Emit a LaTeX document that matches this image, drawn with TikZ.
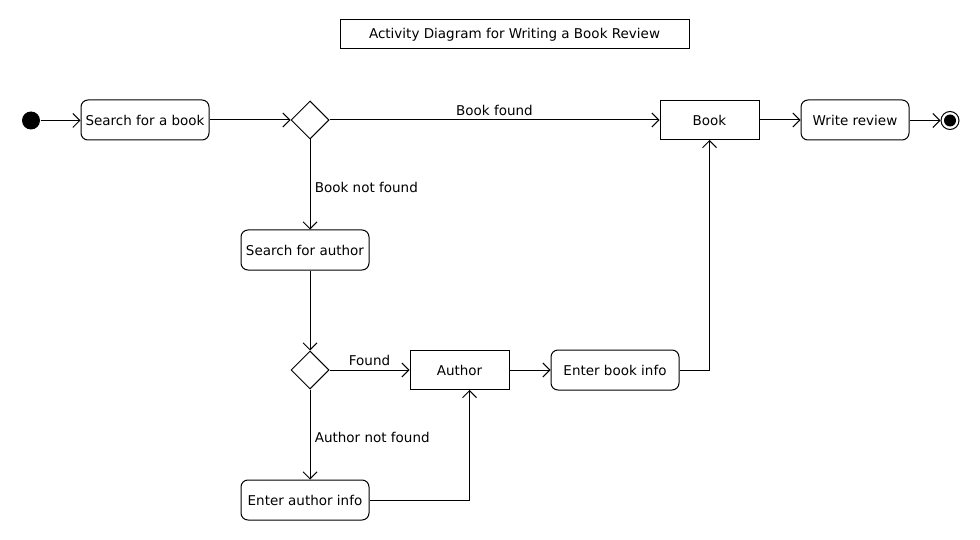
\documentclass[tikz,border=0pt]{standalone}
\usepackage{fontspec}
\setmainfont{DejaVu Sans}
\usetikzlibrary{arrows.meta,shapes.geometric}
\begin{document}
\begin{tikzpicture}[x=1pt,y=-1pt,line width=1pt,
    font=\fontsize{13.5}{16}\selectfont,
    action/.style={draw,rounded corners=7pt,minimum height=40pt,inner sep=2pt},
    object/.style={draw,minimum width=99pt,minimum height=39pt},
    choice/.style={draw,diamond,minimum width=38pt,minimum height=38pt,inner sep=0pt},
    flow/.style={-{Straight Barb[length=7pt,width=14pt]}}]
    \useasboundingbox (0,0) rectangle (980,540);
    \node [draw,minimum width=349pt,minimum height=29pt] (Title) at (514.5,34.5) {Activity Diagram for Writing a Book Review};
    % main row
    \node [circle,fill,minimum size=18pt,inner sep=0pt] (Start) at (31,120.5) {};
    \node [action,minimum width=128pt] (SearchBook) at (145,120) {Search for a book};
    \node [choice] (BookFound) at (310,120) {};
    \node [object] (Book) at (709.5,120) {Book};
    \node [action,minimum width=108pt] (WriteReview) at (855,120) {Write review};
    \node [circle,draw,minimum size=18pt,inner sep=0pt] (End) at (950,120.5) {};
    \fill (End) circle (6pt);
    % author branch
    \node [action,minimum width=128pt] (SearchAuthor) at (305,250) {Search for author};
    \node [choice] (AuthorFound) at (310,370) {};
    \node [object] (Author) at (459.5,370) {Author};
    \node [action,minimum width=128pt] (EnterBook) at (615,370) {Enter book info};
    \node [action,minimum width=128pt] (EnterAuthor) at (305,500) {Enter author info};
    % flows
    \draw [flow] (Start) -- (Start -| SearchBook.west);
    \draw [flow] (SearchBook) -- (BookFound);
    \draw [flow] (BookFound) -- node [above=0pt] {Book found} (Book);
    \draw [flow] (Book) -- (WriteReview);
    \draw [flow] (WriteReview.east |- End) -- (End);
    \draw [flow] (BookFound.south) -- node [right=1pt,yshift=-2.5pt] {Book not found} (BookFound.south |- SearchAuthor.north);
    \draw [flow] (BookFound.south |- SearchAuthor.south) -- (AuthorFound.north);
    \draw [flow] (AuthorFound) -- node [above=0pt] {Found} (Author);
    \draw [flow] (AuthorFound.south) -- node [right=1pt,yshift=-2.5pt] {Author not found} (AuthorFound.south |- EnterAuthor.north);
    \draw [flow] (EnterAuthor) -| ([xshift=10pt]Author.south);
    \draw [flow] (Author) -- (EnterBook);
    \draw [flow] (EnterBook) -| (Book.south);
\end{tikzpicture}
\end{document}
